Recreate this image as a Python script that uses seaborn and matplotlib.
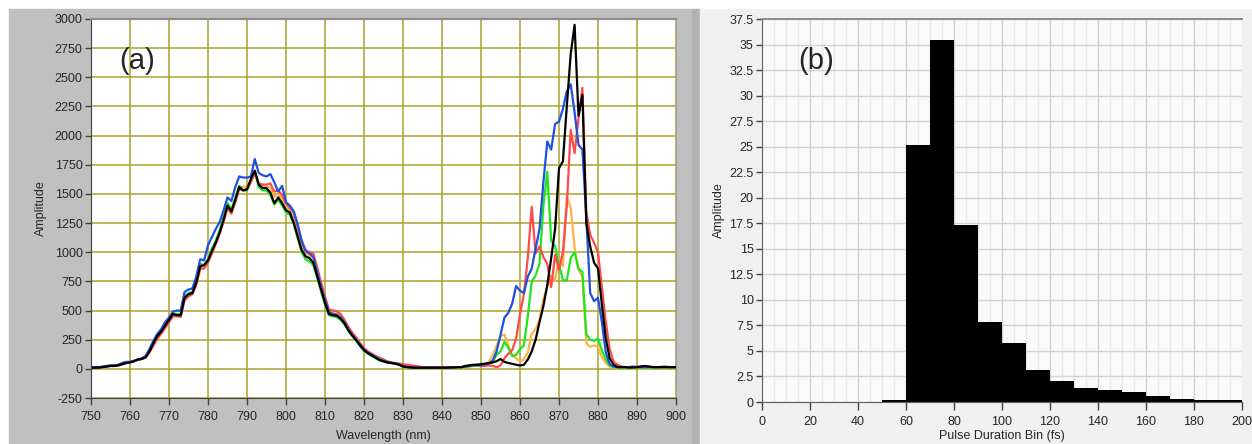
import numpy as np
import pandas as pd
import matplotlib
matplotlib.use('Agg')
import matplotlib.pyplot as plt
from matplotlib.patches import Rectangle
from matplotlib.ticker import MultipleLocator, FuncFormatter
import seaborn as sns

# ---- panel (a): spectra, one value per nm from 750 to 900 ----
wavelength = np.arange(750, 901)

black = [10, 10, 10, 15, 20, 25, 25, 30, 40, 50,
         55, 65, 80, 85, 100, 150, 220, 280, 320, 370,
         420, 470, 460, 460, 610, 640, 650, 740, 880, 890,
         930, 1010, 1085, 1170, 1280, 1400, 1350, 1450, 1560, 1530,
         1540, 1630, 1700, 1580, 1550, 1550, 1510, 1420, 1470, 1420,
         1360, 1340, 1250, 1135, 1020, 965, 950, 910, 795, 680,
         565, 470, 460, 455, 430, 390, 330, 285, 245, 200,
         160, 135, 115, 95, 75, 65, 55, 50, 45, 35,
         20, 15, 12, 10, 10, 10, 10, 10, 10, 10,
         10, 10, 12, 12, 15, 15, 25, 30, 35, 35,
         40, 45, 50, 55, 65, 85, 60, 50, 43, 35,
         29, 35, 80, 150, 250, 400, 540, 720, 950, 1200,
         1720, 1780, 2250, 2700, 2950, 2170, 2350, 1250, 1050, 910,
         860, 550, 260, 90, 35, 15, 15, 15, 12, 12,
         15, 20, 25, 20, 15, 15, 15, 15, 15, 15, 15]

blue = [15, 15, 15, 20, 25, 30, 30, 35, 50, 60,
        60, 70, 80, 90, 110, 170, 240, 300, 340, 400,
        440, 490, 500, 500, 660, 680, 690, 790, 940, 930,
        1060, 1130, 1200, 1260, 1360, 1470, 1440, 1560, 1650, 1640,
        1640, 1650, 1800, 1680, 1660, 1650, 1670, 1600, 1520, 1570,
        1430, 1400, 1350, 1240, 1100, 1010, 990, 960, 830, 700,
        590, 490, 470, 465, 440, 400, 340, 290, 250, 210,
        165, 140, 120, 100, 80, 68, 58, 52, 46, 38,
        22, 16, 12, 10, 10, 10, 10, 10, 10, 10,
        10, 10, 12, 12, 15, 15, 20, 25, 30, 35,
        30, 40, 45, 70, 150, 290, 440, 480, 560, 710,
        670, 650, 790, 860, 1030, 1200, 1600, 1950, 1880, 2100,
        2120, 2230, 2380, 2440, 2200, 1920, 1880, 1300, 650, 580,
        610, 400, 140, 40, 20, 15, 15, 15, 15, 20,
        15, 15, 15, 15, 15, 15, 15, 20, 15, 15, 15]

red = [10, 10, 10, 15, 20, 25, 25, 30, 40, 50,
       55, 65, 75, 85, 95, 140, 200, 260, 300, 350,
       400, 450, 450, 445, 590, 620, 640, 720, 860, 860,
       910, 990, 1070, 1160, 1260, 1380, 1330, 1430, 1540, 1530,
       1540, 1600, 1680, 1590, 1580, 1580, 1590, 1520, 1530, 1490,
       1420, 1380, 1340, 1220, 1100, 1020, 1000, 990, 870, 740,
       620, 510, 500, 495, 470, 420, 360, 310, 270, 220,
       180, 150, 130, 110, 95, 80, 65, 55, 50, 45,
       40, 35, 30, 25, 20, 15, 15, 15, 15, 15,
       15, 15, 15, 15, 15, 15, 20, 25, 30, 30,
       25, 25, 30, 25, 15, 30, 90, 130, 160, 260,
       470, 640, 950, 1390, 990, 1050, 960, 900, 700, 980,
       850, 1000, 1400, 2050, 1850, 2150, 2410, 1350, 1150, 1080,
       1000, 700, 400, 170, 60, 35, 20, 15, 15, 15,
       15, 20, 20, 20, 15, 15, 15, 15, 15, 15, 15]

green = [10, 10, 10, 15, 20, 25, 25, 30, 40, 50,
         55, 65, 80, 85, 100, 155, 230, 290, 330, 380,
         430, 475, 470, 470, 620, 650, 660, 750, 900, 890,
         940, 1030, 1100, 1190, 1300, 1420, 1370, 1470, 1570, 1530,
         1530, 1610, 1690, 1560, 1530, 1530, 1490, 1410, 1450, 1400,
         1340, 1320, 1240, 1120, 1000, 940, 920, 890, 780, 660,
         550, 460, 450, 445, 420, 380, 325, 280, 240, 195,
         155, 130, 110, 90, 72, 62, 53, 48, 43, 33,
         18, 12, 10, 10, 10, 10, 10, 10, 10, 10,
         10, 10, 10, 10, 12, 12, 15, 20, 25, 25,
         25, 30, 40, 60, 120, 150, 230, 180, 110, 120,
         170, 200, 450, 750, 800, 900, 1400, 1690, 1100, 1050,
         900, 760, 760, 950, 1000, 860, 830, 300, 250, 240,
         260, 160, 80, 30, 15, 10, 10, 10, 10, 10,
         10, 10, 10, 10, 10, 10, 10, 10, 10, 10, 10]

orange = [10, 10, 10, 15, 20, 25, 25, 30, 40, 50,
          55, 65, 78, 85, 98, 145, 210, 270, 310, 360,
          410, 460, 455, 450, 600, 630, 645, 730, 870, 875,
          920, 1000, 1080, 1165, 1270, 1390, 1340, 1440, 1560, 1560,
          1560, 1610, 1690, 1585, 1565, 1565, 1550, 1475, 1500, 1455,
          1390, 1360, 1300, 1185, 1065, 990, 975, 950, 835, 710,
          595, 490, 480, 475, 450, 405, 345, 295, 255, 210,
          170, 140, 120, 100, 85, 72, 60, 52, 47, 40,
          30, 25, 20, 15, 15, 12, 12, 12, 12, 12,
          12, 12, 12, 12, 15, 15, 20, 25, 28, 30,
          30, 35, 60, 120, 200, 280, 295, 200, 120, 90,
          65, 80, 140, 300, 340, 420, 600, 700, 800, 760,
          950, 880, 1480, 1380, 1040, 850, 790, 220, 190, 200,
          190, 100, 50, 20, 15, 12, 12, 12, 12, 12,
          12, 12, 12, 12, 12, 12, 12, 12, 12, 12, 12]

trace_names = ['orange', 'green', 'red', 'blue', 'black']
trace_colors = ['#ffb347', '#1ee61e', '#ff4a4a', '#1f50e0', '#000000']

# ---- panel (b): pulse duration histogram, 10 fs bins from 0 to 200 ----
pulse_centers = np.arange(5, 200, 10)
pulse_counts = [0, 0, 0, 0, 0, 0.2, 25.2, 35.4, 17.3, 7.8,
                5.8, 3.1, 2.1, 1.35, 1.2, 0.95, 0.55, 0.3, 0.2, 0.2]

sns.set_style('white')
plt.rcParams['font.family'] = ['Liberation Sans', 'DejaVu Sans']
plt.rcParams['axes.unicode_minus'] = False

W, H = 1252, 444
fig = plt.figure(figsize=(W / 100, H / 100), dpi=100, facecolor='white')
fig.patches.append(Rectangle((9 / W, 0), (692 - 9) / W, (H - 9) / H,
                             transform=fig.transFigure, color='#c0c0c0', zorder=-10))
fig.patches.append(Rectangle((692 / W, 0), 8 / W, (H - 9) / H,
                             transform=fig.transFigure, color='#b2b2b2', zorder=-10))
fig.patches.append(Rectangle((700 / W, 0), (W - 700) / W, (H - 9) / H,
                             transform=fig.transFigure, color='#f0f0f0', zorder=-10))

# panel (a)
ax1 = fig.add_axes([91 / W, (H - 398) / H, 585 / W, 379 / H])
spectra = pd.concat([pd.DataFrame({'wl': wavelength, 'amp': vals, 'trace': name})
                     for name, vals in zip(trace_names, [orange, green, red, blue, black])])
sns.lineplot(data=spectra, x='wl', y='amp', hue='trace', hue_order=trace_names,
             palette=dict(zip(trace_names, trace_colors)), estimator=None,
             legend=False, linewidth=1.6, ax=ax1)
ax1.set_facecolor('white')
ax1.set_xlim(750, 900)
ax1.set_ylim(-250, 3000)
ax1.set_xticks(np.arange(750, 901, 10))
ax1.set_yticks(np.arange(-250, 3001, 250))
ax1.grid(True, color='#aca22c', linewidth=1.1)
ax1.set_axisbelow(True)
for side in ['left', 'bottom']:
    ax1.spines[side].set_color('#404040')
ax1.spines['top'].set_color('#8c8c8c')
ax1.spines['top'].set_linewidth(1.6)
ax1.spines['right'].set_color('#a0a0a0')
ax1.tick_params(direction='out', length=4, width=1, color='#404040',
                labelsize=9, pad=2, left=True, bottom=True)
ax1.tick_params(axis='x', length=5, pad=4)
ax1.set_xlabel('Wavelength (nm)', fontsize=9)
ax1.set_ylabel('Amplitude', fontsize=9)
ax1.xaxis.set_label_coords(0.5, -(430 - 398) / 379)
ax1.yaxis.set_label_coords(-(91 - 47) / 585, 0.5)
ax1.text(761.8, 2644, '(a)', fontsize=21, ha='center', va='center')

# panel (b)
pulses = pd.DataFrame({'duration': pulse_centers, 'count': pulse_counts})
ax2 = fig.add_axes([762 / W, (H - 402) / H, 480 / W, 383 / H])
ax2.set_facecolor('#fafafa')
sns.histplot(data=pulses, x='duration', weights='count', binwidth=10, binrange=(0, 200),
             element='step', fill=True, color='black', alpha=1, linewidth=0, ax=ax2)
ax2.set_xlim(0, 200)
ax2.set_ylim(0, 37.5)
ax2.set_xticks(np.arange(0, 201, 20))
ax2.set_yticks(np.arange(0, 37.6, 2.5))
ax2.xaxis.set_minor_locator(MultipleLocator(5))
ax2.yaxis.set_major_formatter(FuncFormatter(lambda v, p: f'{v:g}'))
ax2.grid(True, which='major', color='#d2d2d2', linewidth=1)
ax2.grid(True, which='minor', axis='x', color='#e8e8e8', linewidth=1)
ax2.set_axisbelow(True)
ax2.spines['right'].set_visible(False)
ax2.spines['top'].set_color('#8c8c8c')
ax2.spines['top'].set_linewidth(1.4)
for side in ['left', 'bottom']:
    ax2.spines[side].set_color('#606060')
ax2.tick_params(which='major', direction='out', length=4, width=1, color='#404040',
                labelsize=9, pad=2, left=True, bottom=True)
ax2.tick_params(axis='x', which='major', length=6, pad=4)
ax2.tick_params(which='minor', length=0)
ax2.set_xlabel('Pulse Duration Bin (fs)', fontsize=9)
ax2.set_ylabel('Amplitude', fontsize=9)
ax2.xaxis.set_label_coords(0.5, -(430 - 402) / 383)
ax2.yaxis.set_label_coords(-(762 - 725) / 480, 0.5)
ax2.text(22.5, 33.4, '(b)', fontsize=21, ha='center', va='center')

fig.savefig('out.png', dpi=100, facecolor=fig.get_facecolor())
